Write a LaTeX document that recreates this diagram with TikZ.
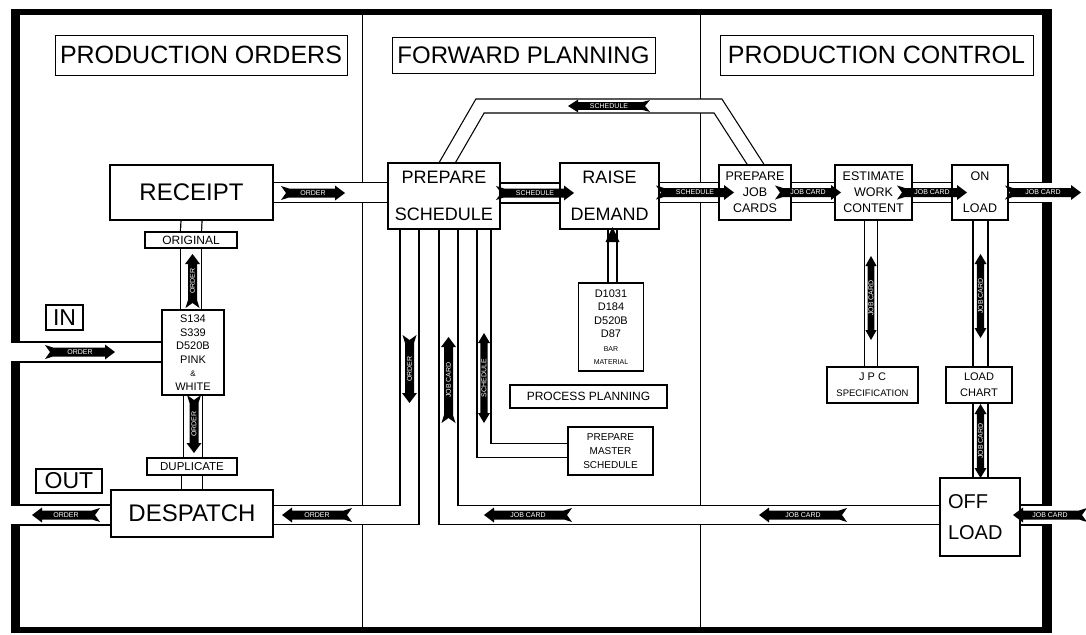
\documentclass[tikz,border=0pt]{standalone}
\usepackage{fontspec}
\setmainfont{Liberation Sans}
\newcommand\fsz[1]{\fontsize{#1}{#1}\selectfont}
\pgfdeclarelayer{framelayer}
\pgfdeclarelayer{chanlayer}
\pgfsetlayers{framelayer,chanlayer,main}
\tikzset{
  box/.style={draw=black, line width=1.1pt, fill=white, inner sep=0pt, align=center},
  hdr/.style={draw=black, line width=0.9pt, fill=white, inner sep=0pt},
  chan/.style={line width=1.2pt, double=white, double distance=#1},
  chan/.default=18.8pt,
  divider/.style={line width=1.2pt},
  ribtext/.style={text=white, font=\fsz{7}, inner sep=0pt},
}
% single-headed ribbon arrow: name, x, y, scope options, half length, text, text angle
\newcommand\ribbon[7]{%
  \begin{scope}[shift={(#2,#3)}, #4]
    \fill (-#5,7) -- (-#5+8,4.5) -- (#5-10,4.5) -- (#5-10,7.5) -- (#5,0) -- (#5-10,-7.5) -- (#5-10,-4.5) -- (-#5+8,-4.5) -- (-#5,-7) -- (-#5+5,0) -- cycle;
  \end{scope}
  \node[ribtext, rotate=#7] (#1) at (#2,#3) {#6};
}
% double-headed ribbon arrow
\newcommand\ribbonD[7]{%
  \begin{scope}[shift={(#2,#3)}, #4]
    \fill (-#5,0) -- (-#5+10,7.5) -- (-#5+10,4.5) -- (#5-10,4.5) -- (#5-10,7.5) -- (#5,0) -- (#5-10,-7.5) -- (#5-10,-4.5) -- (-#5+10,-4.5) -- (-#5+10,-7.5) -- cycle;
  \end{scope}
  \node[ribtext, rotate=#7] (#1) at (#2,#3) {#6};
}
\begin{document}
\begin{tikzpicture}[x=1pt, y=-1pt]
\useasboundingbox (0,0) rectangle (1086,634);

\begin{pgfonlayer}{framelayer}
\fill[white] (0,0) rectangle (1086,634);
% frame
\fill (11,9) rectangle (20,633);
\fill (11,9) rectangle (1052,15);
\fill (1042,9) rectangle (1052,633);
\fill (11,627) rectangle (1052,633);
% column dividers
\draw[divider] (362.5,13) -- (362.5,629);
\draw[divider] (700.5,13) -- (700.5,629);
\end{pgfonlayer}

% headers
\node[hdr, minimum width=292pt, minimum height=40pt, font=\fsz{25}] (hpo) at (201,55) {PRODUCTION ORDERS};
\node[hdr, minimum width=263pt, minimum height=36pt, font=\fsz{24}] (hfp) at (523.5,55) {FORWARD PLANNING};
\node[hdr, minimum width=313pt, minimum height=40pt, font=\fsz{25}] (hpc) at (876.5,55) {PRODUCTION CONTROL};

% boxes
\node[box, minimum width=163pt, minimum height=55pt, font=\fsz{24}] (receipt) at (191.5,192.5) {RECEIPT};
\node[box, minimum width=162pt, minimum height=47pt, font=\fsz{24}] (despatch) at (192,513.5) {DESPATCH};
\node[box, minimum width=112pt, minimum height=66pt, font={\fontsize{18}{37}\selectfont}] (prep) at (444,196) {PREPARE\\SCHEDULE};
\node[box, minimum width=99pt, minimum height=66pt, font={\fontsize{18}{37}\selectfont}] (raise) at (609.5,196) {RAISE\\DEMAND};
\node[box, minimum width=72pt, minimum height=55pt, font={\fontsize{12.5}{16}\selectfont}] (jobc) at (755,192.5) {PREPARE\\JOB\\CARDS};
\node[box, minimum width=77pt, minimum height=55pt, font={\fontsize{12.5}{16}\selectfont}] (est) at (873.5,192.5) {ESTIMATE\\WORK\\CONTENT};
\node[box, minimum width=56pt, minimum height=55pt, font={\fontsize{12.5}{32}\selectfont}] (onload) at (980,192.5) {ON\\LOAD};
\node[box, minimum width=92pt, minimum height=16pt, font=\fsz{12}] (orig) at (191,240) {ORIGINAL};
\node[box, minimum width=62pt, minimum height=85pt, font={\fontsize{11}{13.5}\selectfont}] (s134) at (193,352.5) {S134\\S339\\D520B\\PINK\\{\fsz{8}\&}\\WHITE};
\node[box, minimum width=37pt, minimum height=25pt, font=\fsz{23}] (in) at (64.5,317.5) {IN};
\node[box, minimum width=66pt, minimum height=24pt, font=\fsz{23}] (out) at (69,481) {OUT};
\node[box, minimum width=90pt, minimum height=17pt, font=\fsz{11.5}] (dup) at (192,466.5) {DUPLICATE};
\node[box, minimum width=157pt, minimum height=23pt, font=\fsz{12}] (procp) at (588.5,396.5) {PROCESS PLANNING};
\node[box, minimum width=85pt, minimum height=48pt, font={\fontsize{10}{14}\selectfont}] (pms) at (610.5,451) {PREPARE\\MASTER\\SCHEDULE};
\node[box, minimum width=65pt, minimum height=88pt, font={\fontsize{11}{13.5}\selectfont}] (dmat) at (611,327) {D1031\\D184\\D520B\\D87\\{\fsz{7}BAR}\\{\fsz{7}MATERIAL}};
\node[box, minimum width=91pt, minimum height=36pt, font={\fontsize{11}{16}\selectfont}] (jpc) at (872.5,385) {J P C\\{\fsz{9.5}SPECIFICATION}};
\node[box, minimum width=66pt, minimum height=36pt, font={\fontsize{11}{16}\selectfont}] (loadc) at (979,385) {LOAD\\CHART};
\node[box, minimum width=80pt, minimum height=78pt, text width=64pt, align=left, font={\fontsize{20}{31}\selectfont}] (offload) at (980,517) {OFF\\LOAD};

% free ends and guide coordinates of channels
\coordinate (inL) at (11,352);
\coordinate (outL) at (11,515);
\coordinate (onR) at (1052,192.5);
\coordinate (offR) at (1052,515);
\coordinate (row) at (0,193);
\coordinate (low) at (0,515);
\coordinate (pmsrow) at (0,450.5);
\coordinate (x1) at (409.5,0);
\coordinate (x2) at (448.5,0);
\coordinate (x3) at (484,0);
\coordinate (xd) at (612.5,0);
\coordinate (xe) at (871,0);
\coordinate (xo) at (980.5,0);
\coordinate (lp1) at (443,170);
\coordinate (lp2) at (480,106);
\coordinate (lp3) at (718,106);
\coordinate (lp4) at (760.5,172);

\begin{pgfonlayer}{chanlayer}
% production orders column
\draw[chan=19.8pt] (receipt.south) -- (orig.north);
\draw[chan=19.8pt] (orig.south) -- (orig.south |- s134.north);
\draw[chan=17.8pt] (s134.south) -- (s134.south |- dup.north);
\draw[chan=19.8pt] (dup.south) -- (dup.south |- despatch.north);
\draw[chan] (inL) -- (inL -| s134.west);
\draw[chan] (outL) -- (outL -| despatch.west);
\draw[chan] (receipt.east) -- (receipt.east -| prep.west);
% forward planning
\draw[chan] (prep.east |- row) -- (raise.west |- row);
\draw[chan] (raise.east |- jobc.west) -- (jobc.west);
\draw[chan=12.8pt] (lp1) -- (lp2) -- (lp3) -- (lp4);
\draw[chan=17.8pt] (despatch.east |- low) -- (x1 |- low) -- (x1 |- prep.south);
\draw[chan=17.8pt] (x2 |- prep.south) -- (x2 |- low) -- (offload.west |- low);
\draw[chan=12.8pt] (x3 |- prep.south) -- (x3 |- pmsrow) -- (pms.west |- pmsrow);
\draw[chan=7.8pt] (xd |- dmat.north) -- (xd |- raise.south);
% production control
\draw[chan] (jobc.east) -- (est.west);
\draw[chan] (est.east) -- (onload.west);
\draw[chan] (onload.east) -- (onR);
\draw[chan=11.8pt] (xe |- est.south) -- (xe |- jpc.north);
\draw[chan=13.8pt] (xo |- onload.south) -- (xo |- loadc.north);
\draw[chan=13.8pt] (xo |- loadc.south) -- (xo |- offload.north);
\draw[chan] (offR -| offload.east) -- (offR);
\end{pgfonlayer}

% ribbon arrows
\ribbon{aIn}{80}{352}{rotate=0}{35}{ORDER}{0}
\ribbon{aRec}{313}{193}{rotate=0}{32}{ORDER}{0}
\ribbon{aPS}{535}{193}{rotate=0}{39}{SCHEDULE}{0}
\ribbon{aRD}{695}{192.5}{rotate=0}{39}{SCHEDULE}{0}
\ribbon{aJC1}{808}{192.5}{rotate=0}{33}{JOB CARD}{0}
\ribbon{aJC2}{932}{192.5}{rotate=0}{35}{JOB CARD}{0}
\ribbon{aJC3}{1043}{192.5}{rotate=0}{38}{JOB CARD}{0}
\ribbon{aLoop}{609}{106}{rotate=180,yscale=0.85}{41}{SCHEDULE}{0}
\ribbon{aOrig}{192.5}{281}{rotate=90}{27}{ORDER}{90}
\ribbon{aS}{194}{424}{rotate=-90}{29}{ORDER}{90}
\ribbon{aOut}{66}{515}{rotate=180}{34}{ORDER}{0}
\ribbon{aDes}{317}{515}{rotate=180}{35}{ORDER}{0}
\ribbon{aC1}{409.5}{369}{rotate=-90}{34}{ORDER}{90}
\ribbon{aC2}{448.5}{380}{rotate=90}{43}{JOB CARD}{90}
\ribbonD{aC3}{484}{378}{rotate=90,yscale=0.8}{45}{SCHEDULE}{90}
\ribbon{aB1}{528}{515}{rotate=180}{44}{JOB CARD}{0}
\ribbon{aB2}{803}{515}{rotate=180}{44}{JOB CARD}{0}
\ribbon{aB3}{1050}{515}{rotate=180}{37}{JOB CARD}{0}
\ribbonD{aE}{871}{298}{rotate=90,yscale=0.75}{42}{JOB CARD}{90}
\ribbonD{aO1}{980.5}{296}{rotate=90,yscale=0.8}{42}{JOB CARD}{90}
\ribbonD{aO2}{980.5}{441}{rotate=90,yscale=0.8}{37}{JOB CARD}{90}
% head of the narrow demand arrow
\fill (612.5,227) -- (605.5,242) -- (619.5,242) -- cycle;
\end{tikzpicture}
\end{document}
